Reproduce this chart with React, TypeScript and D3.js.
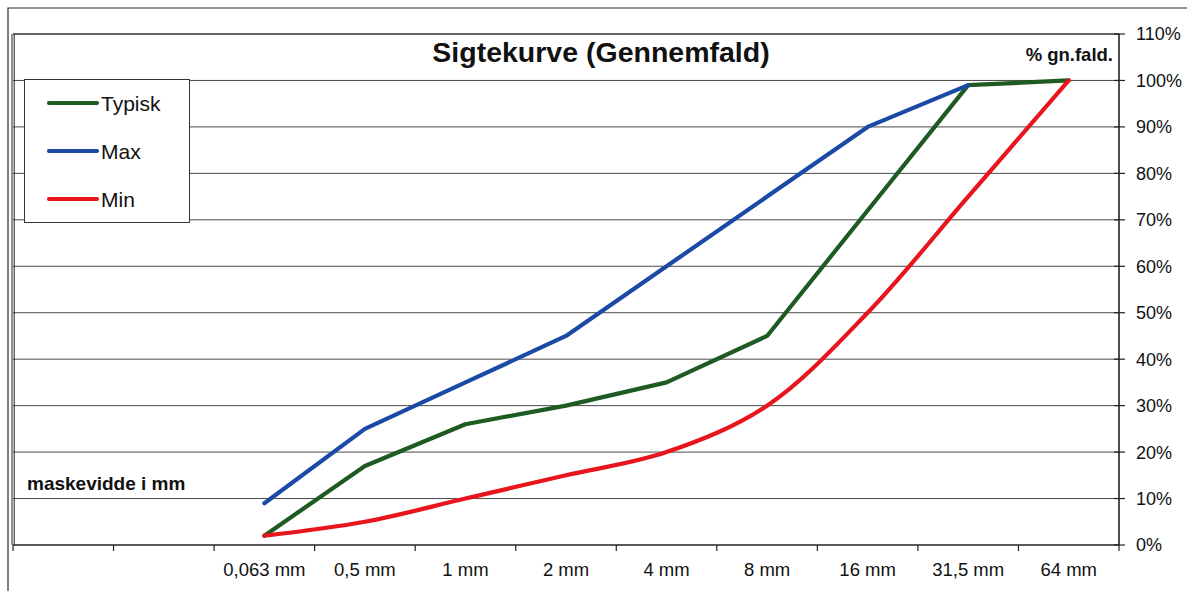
import { useEffect, useRef } from "react";
import * as d3 from "d3";

// sieve sizes (two empty slots first, like in the sheet)
const sieves = ["", " ", "0,063 mm", "0,5 mm", "1 mm", "2 mm", "4 mm", "8 mm", "16 mm", "31,5 mm", "64 mm"];

// % passing, null where the series has no value
const typisk = [null, null, 0.02, 0.17, 0.26, 0.30, 0.35, 0.45, 0.72, 0.99, 1.0];
const maxCurve = [null, null, 0.09, 0.25, 0.35, 0.45, 0.60, 0.75, 0.90, 0.99, null];
const minCurve = [null, null, 0.02, 0.05, 0.10, 0.15, 0.20, 0.30, 0.50, 0.75, 1.0];

const yTicks = [0, 0.1, 0.2, 0.3, 0.4, 0.5, 0.6, 0.7, 0.8, 0.9, 1.0, 1.1];

const seriesNames = ["Typisk", "Max", "Min"];
const seriesColors = ["#1d5b22", "#1b49a6", "#e8161c"];

const App = () => {
    const svgRef = useRef<SVGSVGElement | null>(null);

    useEffect(() => {
        const width = 1187;
        const height = 591;
        const left = 13, right = 1119, top = 34, bottom = 545;

        const svg = d3.select(svgRef.current)
            .attr("width", width)
            .attr("height", height)
            .style("font-family", "'Liberation Sans', Arial, sans-serif");

        const g = svg.append("g");

        const x = d3.scaleBand<string>().domain(sieves).range([left, right]).padding(0);
        const y = d3.scaleLinear().domain([0, 1.1]).range([bottom, top]);

        // outer chart frame
        g.append("path")
            .attr("d", `M8,${height} V8 H${width}`)
            .attr("fill", "none")
            .attr("stroke", "#2a2a2a")
            .attr("stroke-width", 1.2);

        // gridlines
        g.selectAll(".grid")
            .data(yTicks.filter(t => t > 0 && t < 1.1))
            .enter()
            .append("line")
            .attr("x1", left)
            .attr("x2", right)
            .attr("y1", d => y(d))
            .attr("y2", d => y(d))
            .attr("stroke", "#4a4a4a")
            .attr("stroke-width", 1);

        // plot area border top + left
        g.append("line")
            .attr("x1", left).attr("x2", right)
            .attr("y1", y(1.1)).attr("y2", y(1.1))
            .attr("stroke", "#333").attr("stroke-width", 1.6);
        [left - 1, left + 1.2].forEach(px => {
            g.append("line")
                .attr("x1", px).attr("x2", px)
                .attr("y1", top).attr("y2", bottom)
                .attr("stroke", "#222").attr("stroke-width", 1);
        });

        // bottom axis
        g.append("line")
            .attr("x1", left).attr("x2", right)
            .attr("y1", bottom).attr("y2", bottom)
            .attr("stroke", "#222").attr("stroke-width", 1.6);
        const bounds = sieves.map(s => x(s) as number).concat([right]);
        g.selectAll(".xtick")
            .data(bounds)
            .enter()
            .append("line")
            .attr("x1", d => d).attr("x2", d => d)
            .attr("y1", bottom).attr("y2", bottom + 6)
            .attr("stroke", "#222").attr("stroke-width", 1.2);
        g.selectAll(".xlabel")
            .data(sieves.filter(s => s.trim() !== ""))
            .enter()
            .append("text")
            .attr("x", d => (x(d) as number) + x.bandwidth() / 2)
            .attr("y", 576)
            .attr("text-anchor", "middle")
            .attr("font-size", "18.5px")
            .attr("fill", "#111")
            .text(d => d);

        // right axis
        g.append("line")
            .attr("x1", right).attr("x2", right)
            .attr("y1", top).attr("y2", bottom)
            .attr("stroke", "#222").attr("stroke-width", 1.6);
        g.selectAll(".ytick")
            .data(yTicks)
            .enter()
            .append("line")
            .attr("x1", right - 5).attr("x2", right + 6)
            .attr("y1", d => y(d)).attr("y2", d => y(d))
            .attr("stroke", "#222").attr("stroke-width", 1.2);
        g.selectAll(".ylabel")
            .data(yTicks)
            .enter()
            .append("text")
            .attr("x", 1136)
            .attr("y", d => y(d))
            .attr("dy", "0.36em")
            .attr("font-size", "18px")
            .attr("fill", "#111")
            .text(d => d3.format(".0%")(d));

        // series
        const cx = (i: number) => (x(sieves[i]) as number) + x.bandwidth() / 2;
        const allSeries = [typisk, maxCurve, minCurve];
        allSeries.forEach((vals, k) => {
            const line = d3.line<number | null>()
                .defined(d => d !== null)
                .x((_, i) => cx(i))
                .y(d => y(d as number));
            if (k === 2) line.curve(d3.curveCatmullRom.alpha(0.5));
            g.append("path")
                .datum(vals)
                .attr("d", line)
                .attr("fill", "none")
                .attr("stroke", seriesColors[k])
                .attr("stroke-width", 4.2)
                .attr("stroke-linejoin", "round")
                .attr("stroke-linecap", "round");
        });

        // title and axis captions
        g.append("text")
            .attr("x", 601).attr("y", 62)
            .attr("text-anchor", "middle")
            .attr("font-size", "28.5px")
            .attr("font-weight", "bold")
            .attr("fill", "#111")
            .text("Sigtekurve (Gennemfald)");
        g.append("text")
            .attr("x", 1113).attr("y", 61)
            .attr("text-anchor", "end")
            .attr("font-size", "18.5px")
            .attr("font-weight", "bold")
            .attr("fill", "#111")
            .text("% gn.fald.");
        g.append("text")
            .attr("x", 27).attr("y", 490)
            .attr("font-size", "19px")
            .attr("font-weight", "bold")
            .attr("fill", "#111")
            .text("maskevidde i mm");

        // legend
        const legend = g.append("g");
        legend.append("rect")
            .attr("x", 24.5).attr("y", 79.5)
            .attr("width", 165).attr("height", 143)
            .attr("fill", "white")
            .attr("stroke", "#333").attr("stroke-width", 1);
        seriesNames.forEach((name, i) => {
            const ly = 103 + i * 48;
            legend.append("line")
                .attr("x1", 49).attr("x2", 97)
                .attr("y1", ly).attr("y2", ly)
                .attr("stroke", seriesColors[i])
                .attr("stroke-width", 4.2)
                .attr("stroke-linecap", "round");
            legend.append("text")
                .attr("x", 101).attr("y", ly + 8)
                .attr("font-size", "21px")
                .attr("fill", "#111")
                .text(name);
        });

        return () => {
            svg.selectAll("*").remove();
        };
    }, []);

    return (
        <svg ref={svgRef} style={{ position: "absolute", left: 0, top: 0, background: "white" }}></svg>
    );
};

export default App;
